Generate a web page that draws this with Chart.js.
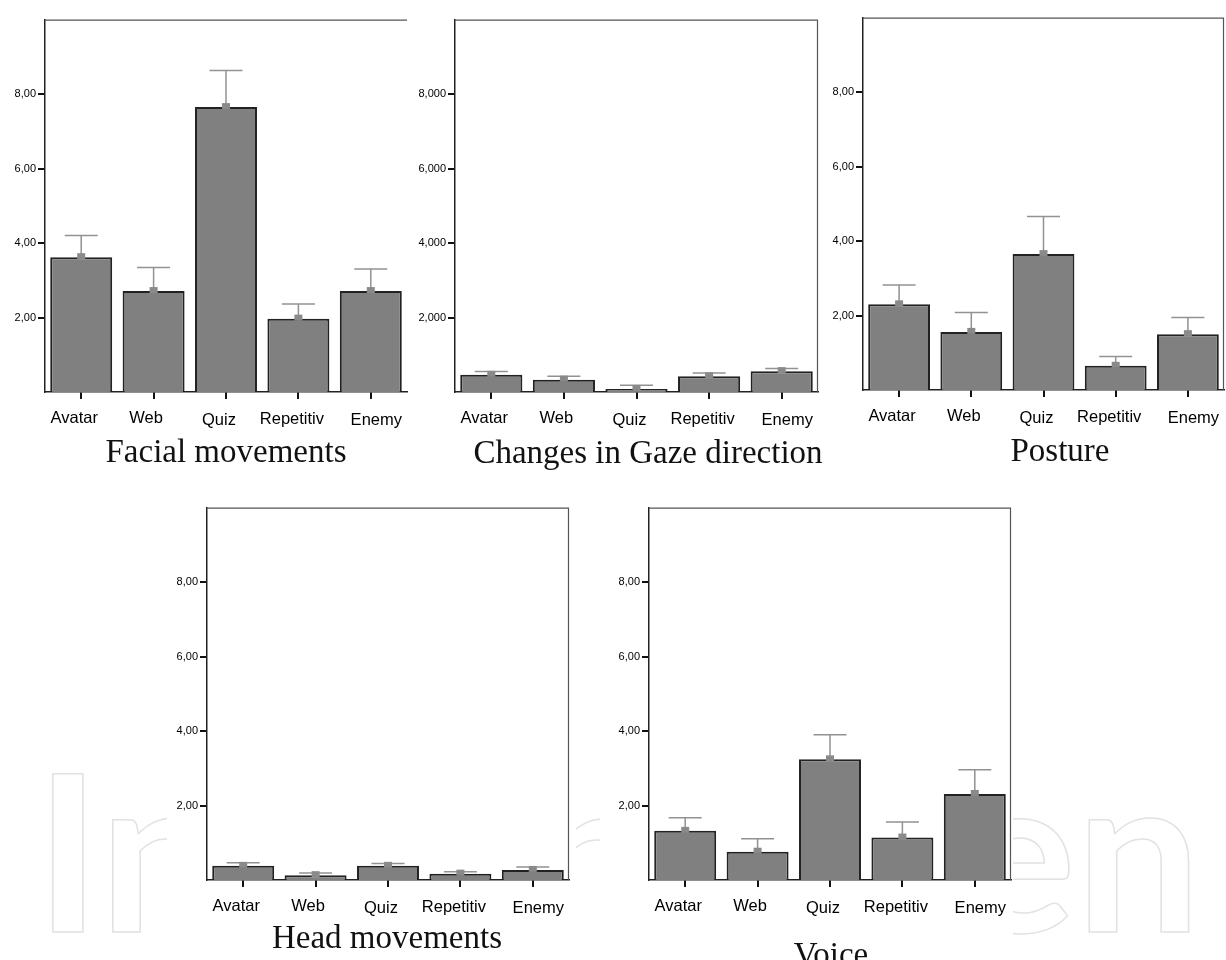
<!DOCTYPE html>
<html>
<head>
<meta charset="utf-8">
<script src="https://cdn.jsdelivr.net/npm/chart.js@4.4.1/dist/chart.umd.min.js"></script>
<style>
  html, body { margin: 0; padding: 0; background: #fff; }
  body { width: 1226px; height: 960px; position: relative; overflow: hidden; }
  canvas { position: absolute; }
  .title {
    position: absolute;
    font-family: "Liberation Serif", "Times New Roman", serif;
    font-size: 33px;
    line-height: 1;
    color: #111;
    white-space: nowrap;
    transform: translateX(-50%);
  }
  #mark {
    position: absolute;
    left: 35px;
    top: 739px;
    font-family: Lato, sans-serif;
    font-weight: 700;
    font-size: 218px;
    line-height: 1;
    color: transparent;
    -webkit-text-stroke: 1.5px #e2e2e2;
    white-space: nowrap;
    transform-origin: 0 0;
  }
</style>
</head>
<body>
<div id="mark">IntechOpen</div>

<script>
// categories and y ticks
const categories = ['Avatar', 'Web', 'Quiz', 'Repetitiv', 'Enemy'];
const yTicks = [2, 4, 6, 8];
const tickLabels2 = ['2,00', '4,00', '6,00', '8,00'];
const tickLabels3 = ['2,000', '4,000', '6,000', '8,000'];

// means and upper ends of the error bars
const facialMeans = [3.62, 2.71, 7.65, 1.97, 2.71];
const facialUpper = [4.20, 3.34, 8.63, 2.36, 3.30];
const gazeMeans = [0.46, 0.33, 0.08, 0.42, 0.56];
const gazeUpper = [0.55, 0.42, 0.18, 0.51, 0.63];
const postureMeans = [2.30, 1.56, 3.65, 0.65, 1.50];
const postureUpper = [2.82, 2.08, 4.66, 0.90, 1.95];
const headMeans = [0.38, 0.13, 0.38, 0.17, 0.27];
const headUpper = [0.46, 0.19, 0.44, 0.22, 0.35];
const voiceMeans = [1.32, 0.76, 3.24, 1.14, 2.31];
const voiceUpper = [1.67, 1.11, 3.90, 1.56, 2.96];

// the category labels sit a little off their ticks in the original
const LABEL_DX = [-7, -7.5, -7, -6.5, 5.5];
const LABEL_BASE = [31, 30.5, 33, 32, 33];

const X_AXIS_H = 42;
const PAD = 3;

// plot: [left, top, right, bottom]; box: white canvas [left, top, right, bottom]
const panels = [
  { title: 'Facial movements', means: facialMeans, upper: facialUpper, ticks: tickLabels2,
    plot: [45, 14, 407, 392], box: [0, 11, 410, 434], rightBorder: false, titleX: 226, titleTop: 435 },
  { title: 'Changes in Gaze direction', means: gazeMeans, upper: gazeUpper, ticks: tickLabels3,
    plot: [455, 14, 818, 392], box: [411, 11, 821, 434], rightBorder: true, titleX: 648, titleTop: 436 },
  { title: 'Posture', means: postureMeans, upper: postureUpper, ticks: tickLabels2,
    plot: [863, 12, 1224, 390], box: [822, 9, 1226, 432], rightBorder: true, titleX: 1060, titleTop: 434 },
  { title: 'Head movements', means: headMeans, upper: headUpper, ticks: tickLabels2,
    plot: [207, 502, 569, 880], box: [167, 499, 576, 960], rightBorder: true, titleX: 387, titleTop: 921 },
  { title: 'Voice', means: voiceMeans, upper: voiceUpper, ticks: tickLabels2,
    plot: [649, 502, 1011, 880], box: [600, 499, 1013, 960], rightBorder: true, titleX: 831, titleTop: 938 },
];

// white background + top/right frame + category labels
const framePlugin = {
  id: 'frame',
  beforeDraw(chart) {
    const { ctx } = chart;
    ctx.save();
    ctx.fillStyle = '#fff';
    ctx.fillRect(0, 0, chart.width, chart.height);
    ctx.restore();
  },
  afterDraw(chart, args, opts) {
    const { ctx, chartArea: a } = chart;
    ctx.save();
    ctx.strokeStyle = '#555';
    ctx.lineWidth = 1.2;
    ctx.beginPath();
    ctx.moveTo(a.left, a.top + 0.5);
    ctx.lineTo(a.right, a.top + 0.5);
    if (opts.right) {
      ctx.moveTo(a.right - 0.5, a.top);
      ctx.lineTo(a.right - 0.5, a.bottom);
    }
    ctx.stroke();

    const xs = chart.scales.x;
    ctx.fillStyle = '#000';
    ctx.font = '16.5px "Liberation Sans", Arial, sans-serif';
    ctx.textAlign = 'center';
    ctx.textBaseline = 'alphabetic';
    chart.data.labels.forEach((lab, i) => {
      ctx.fillText(lab, xs.getPixelForValue(i) + LABEL_DX[i], a.bottom + LABEL_BASE[i]);
    });
    ctx.restore();
  }
};

// error bars (mean -> upper) with cap and mean marker
const errorBarPlugin = {
  id: 'errorBars',
  afterDatasetsDraw(chart, args, opts) {
    const { ctx } = chart;
    const yScale = chart.scales.y;
    const meta = chart.getDatasetMeta(0);
    ctx.save();
    meta.data.forEach((bar, i) => {
      const x = bar.x;
      const yMean = bar.y;
      const yTop = yScale.getPixelForValue(opts.upper[i]);
      ctx.strokeStyle = '#929292';
      ctx.lineWidth = 1.5;
      ctx.beginPath();
      ctx.moveTo(x, yMean);
      ctx.lineTo(x, yTop);
      ctx.moveTo(x - 16.5, yTop);
      ctx.lineTo(x + 16.5, yTop);
      ctx.stroke();
      ctx.fillStyle = '#8a8a8a';
      ctx.fillRect(x - 4, yMean - 4, 8, 6);
    });
    ctx.restore();
  }
};

panels.forEach((p) => {
  const [l, t, r, b] = p.plot;
  const [cl, ct, cr, cb] = p.box;
  const yAxisW = l - cl;
  const canvas = document.createElement('canvas');
  canvas.width = cr - cl;
  canvas.height = cb - ct;
  canvas.style.left = cl + 'px';
  canvas.style.top = ct + 'px';
  document.body.appendChild(canvas);

  const title = document.createElement('div');
  title.className = 'title';
  title.textContent = p.title;
  title.style.left = p.titleX + 'px';
  title.style.top = p.titleTop + 'px';
  document.body.appendChild(title);

  new Chart(canvas, {
    type: 'bar',
    data: {
      labels: categories,
      datasets: [{
        data: p.means,
        backgroundColor: '#808080',
        borderColor: '#222',
        borderWidth: 2,
        borderSkipped: 'bottom',
        barPercentage: 0.856,
        categoryPercentage: 1,
      }],
    },
    options: {
      responsive: false,
      animation: false,
      layout: {
        padding: {
          top: t - ct,
          right: cr - r,
          left: 0,
          bottom: (cb - ct) - (b - ct) - X_AXIS_H,
        },
      },
      plugins: {
        legend: { display: false },
        tooltip: { enabled: false },
        frame: { right: p.rightBorder },
        errorBars: { upper: p.upper },
      },
      scales: {
        x: {
          offset: true,
          border: { display: true, color: '#222', width: 1.5 },
          grid: { offset: false, drawOnChartArea: false, tickLength: 7, color: '#111', lineWidth: 2 },
          ticks: { display: false },
          afterFit(scale) { scale.height = X_AXIS_H; },
        },
        y: {
          min: 0,
          max: 10,
          border: { display: true, color: '#222', width: 1.5 },
          grid: { drawOnChartArea: false, tickLength: 7, color: '#111', lineWidth: 2 },
          afterBuildTicks(scale) { scale.ticks = yTicks.map((v) => ({ value: v })); },
          ticks: {
            color: '#000',
            padding: 2,
            font: { family: '"Liberation Sans", Arial, sans-serif', size: 11 },
            callback: (value, index) => p.ticks[index],
          },
          afterFit(scale) { scale.width = yAxisW; },
        },
      },
    },
    plugins: [framePlugin, errorBarPlugin],
  });
});

// stretch the watermark to its width in the picture
const mark = document.getElementById('mark');
const w = mark.getBoundingClientRect().width;
mark.style.transform = 'scaleX(' + (1166 / w) + ')';
</script>
</body>
</html>
